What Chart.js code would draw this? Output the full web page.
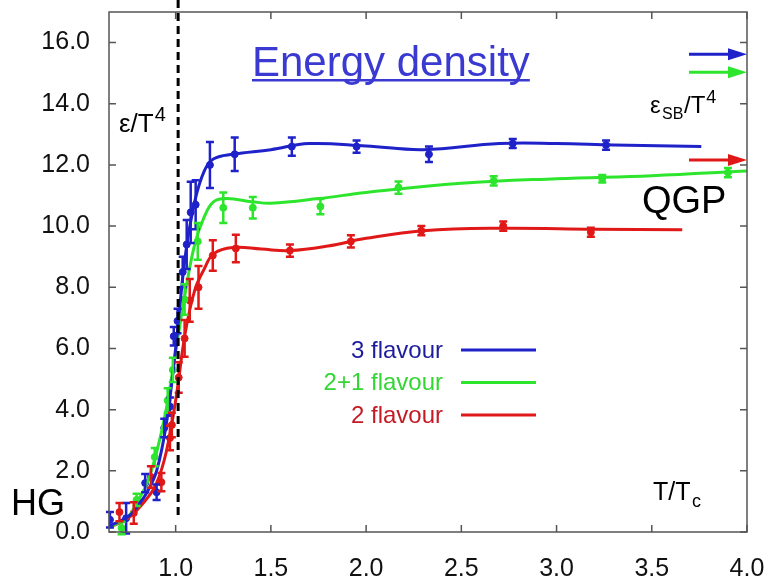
<!DOCTYPE html>
<html>
<head>
<meta charset="utf-8">
<script src="https://cdn.jsdelivr.net/npm/chart.js@4.4.1/dist/chart.umd.min.js"></script>
<style>
  body { margin: 0; background: #fff; }
  #wrap { width: 767px; height: 581px; }
</style>
</head>
<body>
<div id="wrap"><canvas id="eps" width="767" height="581"></canvas></div>
<script>
// Energy density vs T/Tc (lattice QCD)

const xTicks = [1.0, 1.5, 2.0, 2.5, 3.0, 3.5, 4.0];
const yTicks = [0, 2, 4, 6, 8, 10, 12, 14, 16];
const tcLine = 1.013;

const flavourLabels = ["3 flavour", "2+1 flavour", "2 flavour"];
const lineColors = ["#1e22c8", "#2ee52e", "#e01818"];
const textColors = ["#1c1c9c", "#33d633", "#c41a24"];

// Stefan-Boltzmann limits (arrows on the right)
const sbLimits = [15.62, 15.03, 12.16];

// 3 flavour
const b3X = [0.655, 0.74, 0.84, 0.90, 0.94, 0.97, 0.99, 1.01, 1.037, 1.058, 1.079, 1.105, 1.18, 1.31, 1.61, 1.95, 2.33, 2.77, 3.26];
const b3Y = [0.4, 0.45, 1.6, 1.3, 3.4, 4.1, 6.4, 6.9, 8.5, 9.4, 10.45, 10.7, 12.0, 12.35, 12.6, 12.6, 12.35, 12.7, 12.65];
const b3Err = [0.25, 0.5, 0.3, 0.25, 0.3, 0.3, 0.3, 0.4, 0.5, 0.8, 1.0, 0.8, 0.75, 0.55, 0.3, 0.2, 0.25, 0.15, 0.15];
const b3CurveX = [0.65, 0.75, 0.8, 0.85, 0.9, 0.95, 1.0, 1.05, 1.1, 1.15, 1.2, 1.3, 1.5, 1.7, 2.0, 2.3, 2.7, 3.0, 3.3, 3.76];
const b3CurveY = [0.2, 0.5, 0.85, 1.3, 2.0, 3.5, 6.0, 9.0, 10.8, 11.8, 12.2, 12.35, 12.5, 12.7, 12.62, 12.5, 12.7, 12.7, 12.65, 12.6];

// 2+1 flavour
const g21X = [0.716, 0.795, 0.89, 0.958, 0.985, 1.047, 1.116, 1.25, 1.405, 1.76, 2.17, 2.67, 3.24, 3.9];
const g21Y = [0.13, 1.05, 2.45, 4.3, 5.3, 7.6, 9.5, 10.6, 10.6, 10.64, 11.26, 11.48, 11.55, 11.75];
const g21Err = [0.2, 0.2, 0.3, 0.4, 0.4, 0.5, 0.6, 0.5, 0.35, 0.25, 0.2, 0.15, 0.12, 0.15];
const g21CurveX = [0.65, 0.75, 0.8, 0.85, 0.9, 0.95, 1.0, 1.05, 1.1, 1.15, 1.2, 1.27, 1.4, 1.5, 1.75, 2.0, 2.5, 3.0, 3.5, 4.0];
const g21CurveY = [0.15, 0.5, 1.0, 1.6, 2.6, 4.0, 5.9, 7.8, 9.4, 10.3, 10.8, 10.9, 10.8, 10.75, 10.9, 11.1, 11.4, 11.55, 11.65, 11.8];

// 2 flavour
const r2X = [0.705, 0.78, 0.87, 0.925, 0.97, 0.98, 1.016, 1.047, 1.074, 1.12, 1.195, 1.316, 1.6, 1.92, 2.29, 2.72, 3.18];
const r2Y = [0.65, 0.62, 1.8, 1.63, 3.07, 3.5, 5.05, 6.33, 7.57, 8.0, 9.04, 9.27, 9.2, 9.5, 9.85, 10.0, 9.8];
const r2Err = [0.3, 0.35, 0.35, 0.3, 0.4, 0.4, 0.5, 0.6, 0.7, 0.7, 0.5, 0.45, 0.2, 0.2, 0.15, 0.15, 0.15];
const r2CurveX = [0.65, 0.75, 0.85, 0.9, 0.95, 1.0, 1.05, 1.1, 1.15, 1.2, 1.3, 1.45, 1.6, 1.8, 2.0, 2.3, 2.7, 3.2, 3.66];
const r2CurveY = [0.15, 0.45, 1.1, 1.6, 2.6, 4.3, 6.5, 7.9, 8.6, 9.1, 9.3, 9.25, 9.2, 9.35, 9.6, 9.85, 9.93, 9.9, 9.88];

const pts = (xs, ys) => xs.map((x, i) => ({ x: x, y: ys[i] }));

const pointSets = [[b3X, b3Y, b3Err], [g21X, g21Y, g21Err], [r2X, r2Y, r2Err]];
const curveSets = [[b3CurveX, b3CurveY], [g21CurveX, g21CurveY], [r2CurveX, r2CurveY]];

const datasets = [];
curveSets.forEach((c, i) => {
  datasets.push({
    type: "line",
    label: flavourLabels[i],
    data: pts(c[0], c[1]),
    borderColor: lineColors[i],
    borderWidth: 3,
    pointRadius: 0,
    tension: 0.4,
    fill: false,
  });
});
pointSets.forEach((p, i) => {
  datasets.push({
    type: "scatter",
    label: flavourLabels[i] + " data",
    data: pts(p[0], p[1]),
    errors: p[2],
    backgroundColor: lineColors[i],
    borderColor: lineColors[i],
    pointRadius: 3.5,
    showLine: false,
  });
});

const FONT = "'Liberation Sans', Arial, sans-serif";

function supText(ctx, base, sup, x, y, size) {
  ctx.font = size + "px " + FONT;
  ctx.fillText(base, x, y);
  const w = ctx.measureText(base).width;
  ctx.font = Math.round(size * 0.75) + "px " + FONT;
  ctx.fillText(sup, x + w + 1, y - size * 0.42);
}

const decor = {
  id: "decor",
  afterDatasetsDraw(chart) {
    const ctx = chart.ctx;
    const xs = chart.scales.x, ys = chart.scales.y;
    const a = chart.chartArea;
    ctx.save();
    // error bars
    chart.data.datasets.forEach((ds) => {
      if (!ds.errors) return;
      ctx.strokeStyle = ds.borderColor;
      ctx.lineWidth = 2.5;
      ds.data.forEach((p, i) => {
        const px = xs.getPixelForValue(p.x);
        const y1 = ys.getPixelForValue(p.y - ds.errors[i]);
        const y2 = ys.getPixelForValue(p.y + ds.errors[i]);
        ctx.beginPath();
        ctx.moveTo(px, y1); ctx.lineTo(px, y2);
        ctx.moveTo(px - 4, y1); ctx.lineTo(px + 4, y1);
        ctx.moveTo(px - 4, y2); ctx.lineTo(px + 4, y2);
        ctx.stroke();
      });
    });
    // frame and inward ticks
    ctx.strokeStyle = "#555";
    ctx.lineWidth = 1.5;
    ctx.strokeRect(a.left, a.top, a.right - a.left, a.bottom - a.top);
    ctx.beginPath();
    xTicks.forEach(v => {
      const px = xs.getPixelForValue(v);
      ctx.moveTo(px, a.bottom); ctx.lineTo(px, a.bottom - 7);
      ctx.moveTo(px, a.top); ctx.lineTo(px, a.top + 7);
    });
    yTicks.forEach(v => {
      const py = ys.getPixelForValue(v);
      ctx.moveTo(a.left, py); ctx.lineTo(a.left + 7, py);
      ctx.moveTo(a.right, py); ctx.lineTo(a.right - 7, py);
    });
    ctx.stroke();
    // Tc dashed line
    const tx = xs.getPixelForValue(tcLine);
    ctx.strokeStyle = "#000";
    ctx.lineWidth = 3;
    ctx.setLineDash([8, 5]);
    ctx.beginPath();
    ctx.moveTo(tx, 0); ctx.lineTo(tx, 517);
    ctx.stroke();
    ctx.setLineDash([]);
    // SB arrows
    sbLimits.forEach((v, i) => {
      const py = ys.getPixelForValue(v);
      ctx.strokeStyle = lineColors[i];
      ctx.fillStyle = lineColors[i];
      ctx.lineWidth = 3;
      ctx.beginPath();
      ctx.moveTo(a.right - 58, py); ctx.lineTo(a.right - 12, py);
      ctx.stroke();
      ctx.beginPath();
      ctx.moveTo(a.right, py);
      ctx.lineTo(a.right - 19, py - 6);
      ctx.lineTo(a.right - 19, py + 6);
      ctx.closePath();
      ctx.fill();
    });
    // legend
    ctx.textAlign = "right";
    ctx.textBaseline = "middle";
    ctx.font = "24px " + FONT;
    flavourLabels.forEach((lab, i) => {
      const ly = 350 + i * 32.5;
      ctx.fillStyle = textColors[i];
      ctx.fillText(lab, 443, ly + 1);
      ctx.strokeStyle = lineColors[i];
      ctx.lineWidth = 3;
      ctx.beginPath();
      ctx.moveTo(461, ly); ctx.lineTo(536, ly);
      ctx.stroke();
    });
    // annotations
    ctx.textAlign = "left";
    ctx.textBaseline = "alphabetic";
    ctx.fillStyle = "#3a3ad2";
    ctx.font = "42px " + FONT;
    ctx.fillText("Energy density", 252, 76);
    const tw = ctx.measureText("Energy density").width;
    ctx.fillRect(252, 79, tw, 2.5);
    ctx.fillStyle = "#000";
    ctx.font = "38px " + FONT;
    ctx.fillText("QGP", 642, 213);
    ctx.font = "36px " + FONT;
    ctx.fillText("HG", 11, 515);
    supText(ctx, "\u03b5/T", "4", 119, 132, 26);
    // eps_SB / T^4
    ctx.font = "24px " + FONT;
    ctx.fillText("\u03b5", 650, 113);
    ctx.font = "16px " + FONT;
    ctx.fillText("SB", 662, 119);
    supText(ctx, "/T", "4", 684, 113, 24);
    // T/Tc
    ctx.font = "25px " + FONT;
    ctx.fillText("T/T", 653, 500);
    ctx.font = "18px " + FONT;
    ctx.fillText("c", 692, 507);
    ctx.restore();
  },
};

new Chart(document.getElementById("eps"), {
  data: { datasets: datasets },
  options: {
    responsive: false,
    animation: false,
    layout: { padding: { top: 12, right: 20, left: 0, bottom: 0 } },
    plugins: { legend: { display: false }, tooltip: { enabled: false } },
    scales: {
      x: {
        type: "linear",
        min: 0.65,
        max: 4.0,
        afterBuildTicks: (s) => { s.ticks = xTicks.map(v => ({ value: v })); },
        afterFit: (s) => { s.height = 49; s.paddingLeft = 0; s.paddingRight = 0; },
        grid: { display: false, drawTicks: false },
        border: { display: false },
        ticks: {
          padding: 22,
          color: "#111",
          font: { family: FONT, size: 25 },
          callback: (v) => Number(v).toFixed(1),
        },
      },
      y: {
        min: 0,
        max: 17,
        afterBuildTicks: (s) => { s.ticks = yTicks.map(v => ({ value: v })); },
        afterFit: (s) => { s.width = 109; s.paddingTop = 0; s.paddingBottom = 0; },
        grid: { display: false, drawTicks: false },
        border: { display: false },
        ticks: {
          padding: 19,
          color: "#111",
          font: { family: FONT, size: 25 },
          callback: (v) => Number(v).toFixed(1),
        },
      },
    },
  },
  plugins: [decor],
});
</script>
</body>
</html>
